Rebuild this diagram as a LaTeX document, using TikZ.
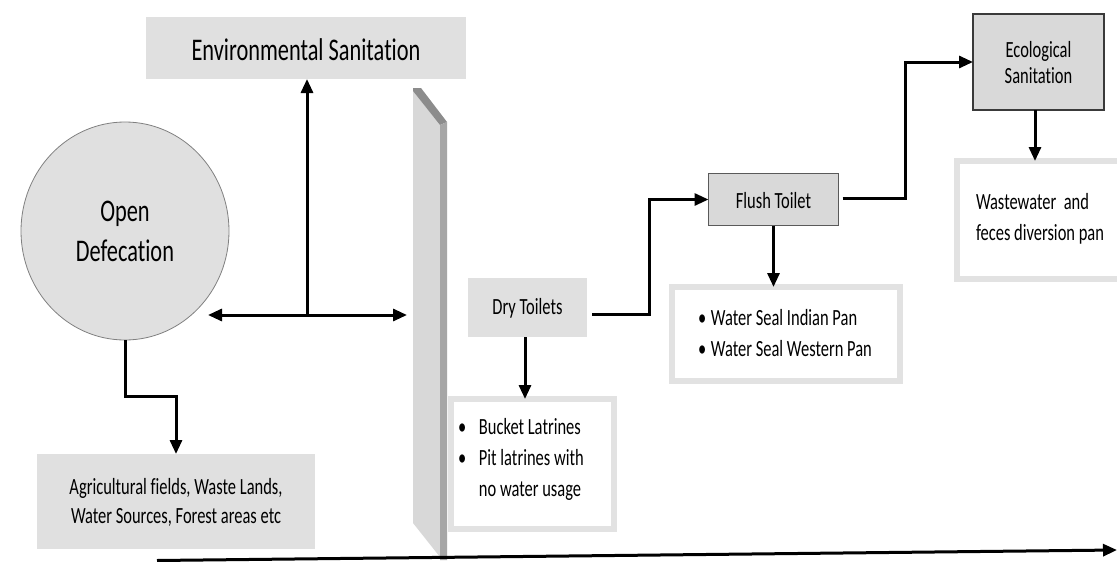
\documentclass[tikz,border=0pt]{standalone}
\usepackage{fontspec}
\usepackage{graphicx}
\setmainfont{Carlito}[Ligatures=NoCommon]
\usetikzlibrary{arrows.meta,shapes.geometric}
\definecolor{boxgray}{HTML}{E0E0E0}
\definecolor{tilegray}{HTML}{D9D9D9}
\definecolor{framegray}{HTML}{E2E2E2}
\definecolor{wallface}{HTML}{D8D8D8}
\definecolor{wallside}{HTML}{A6A6A6}
\definecolor{walltop}{HTML}{8C8C8C}
\definecolor{tileedge}{HTML}{5A5A5A}
\definecolor{ecoedge}{HTML}{3A3A3A}
% narrow, tall lettering
\newcommand{\narrowtext}[1]{\scalebox{0.71}[1]{#1}}
\newcommand{\stack}[2][c]{\narrowtext{\begin{tabular}{@{}#1@{}}#2\end{tabular}}}
% move a label down without changing its box
\newcommand{\shiftdown}[2]{\raisebox{-#1}[\height][\depth]{#2}}
\tikzset{
  tip/.tip={Triangle[length=14pt,width=12pt]},
  conn/.style={line width=3pt, -tip},
  flat/.style={fill=boxgray, draw=none, inner sep=0pt, outer sep=0pt, align=center},
  tile/.style={fill=tilegray, inner sep=0pt, outer sep=0pt, align=center},
  frame/.style={draw=framegray, line width=6pt, fill=white, inner sep=0pt, outer sep=0pt},
  label/.style={inner sep=0pt, outer sep=0pt},
  big/.style={font=\fontsize{31.5}{40}\selectfont},
  body/.style={font=\fontsize{23.2}{31}\selectfont},
}
\begin{document}
\begin{tikzpicture}[x=1pt,y=-1pt]
\clip (0,0) rectangle (1117,562);
\fill[white] (0,0) rectangle (1117,562);

% the partition wall
\fill[wallface] (413,91) -- (440,125) -- (440,557) -- (413,523) -- cycle;
\fill[walltop] (413,88) -- (421,88) -- (447,122) -- (440,125) -- (413,91) -- cycle;
\fill[wallside] (440,125) -- (447,122) -- (447,560) -- (440,560) -- cycle;

% left side
\node[flat, big, minimum width=320, minimum height=62] (env) at (306,48)
      {\shiftdown{2pt}{\narrowtext{Environmental Sanitation}}};
\node[ellipse, fill=boxgray, draw=gray, line width=0.8pt, inner sep=0pt, outer sep=0pt,
      minimum width=208, minimum height=218, big] (od) at (125,231)
      {\shiftdown{2.5pt}{\stack{Open\\Defecation}}};
\node[flat, font=\fontsize{23.2}{29}\selectfont, minimum width=278, minimum height=95] (agri) at (176,501.5)
      {\shiftdown{1.5pt}{\stack{Agricultural fields, Waste Lands,\\Water Sources, Forest areas etc}}};

% right side
\node[flat, body, minimum width=119, minimum height=59] (dry) at (527.5,307.5)
      {\shiftdown{1pt}{\narrowtext{Dry Toilets}}};
\node[frame, minimum width=163, minimum height=130] (bk) at (532.5,464) {};
\node[label, body, anchor=west] (bktext) at (458,459)
      {\stack[l]{\makebox[29.5pt][l]{•}Bucket Latrines\\
                 \makebox[29.5pt][l]{•}Pit latrines with\\
                 \makebox[29.5pt][l]{}no water usage}};

\node[tile, draw=tileedge, line width=1pt, body, minimum width=130, minimum height=52] (flush) at (773.5,199.5)
      {\shiftdown{1pt}{\narrowtext{Flush Toilet}}};
\node[frame, minimum width=228, minimum height=94] (ws) at (786,334) {};
\node[label, body, anchor=west] (wstext) at (698,334.5)
      {\stack[l]{\makebox[18.3pt][l]{•}Water Seal Indian Pan\\
                 \makebox[18.3pt][l]{•}Water Seal Western Pan}};

\node[tile, draw=ecoedge, line width=2.5pt, font=\fontsize{23.2}{26}\selectfont,
      minimum width=131, minimum height=96] (eco) at (1038.5,62)
      {\shiftdown{3pt}{\stack{Ecological\\Sanitation}}};
\node[frame, minimum width=168, minimum height=118] (ww) at (1041,220) {};
\node[label, body, anchor=west] (wwtext) at (976,218.5)
      {\stack[l]{Wastewater\ \ and\\feces diversion pan}};

% connectors
\coordinate (leftend) at (208,315);
\coordinate (rightend) at (407,315);
\coordinate (junction) at (307,315);
\draw[line width=3pt, tip-tip] (leftend) -- (rightend);
\draw[conn] (junction) -- (junction |- env.south);
\draw[conn] (od.south) -- ++(0,56) -| (agri.north);

\draw[conn] ([xshift=-2.5pt]dry.south) -- ([xshift=-2.5pt]dry.south |- bk.north);
\draw[conn] ([xshift=5pt,yshift=-6.5pt]dry.east) -- ++(57,0) |- (flush.west);
\draw[conn] (flush.south) -- (flush.south |- ws.north);
\draw[conn] ([xshift=4pt,yshift=1.5pt]flush.east) -- ++(63,0) |- (eco.west);
\draw[conn] ([xshift=-3.5pt]eco.south) -- ([xshift=-3.5pt]eco.south |- ww.north);

% time axis along the bottom
\coordinate (axisstart) at (157,560.5);
\coordinate (axisend) at (1117,550);
\draw[conn] (axisstart) -- (axisend);
\end{tikzpicture}
\end{document}
